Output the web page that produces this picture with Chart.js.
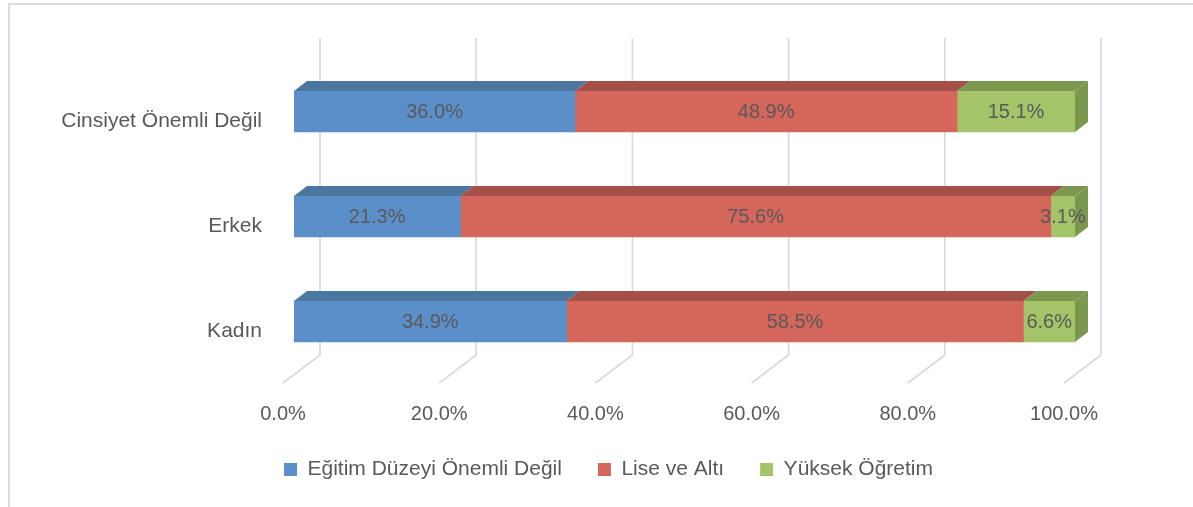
<!DOCTYPE html>
<html>
<head>
<meta charset="utf-8">
<script src="https://cdn.jsdelivr.net/npm/chart.js@4"></script>
<style>
html, body { margin: 0; padding: 0; background: #fff; }
#wrap { position: relative; width: 1193px; height: 507px; overflow: hidden; }
#frame { position: absolute; left: 8px; top: 3px; right: -4px; bottom: -4px; border-top: 2px solid #dcdcdc; border-left: 2px solid #dcdcdc; }
canvas { position: absolute; left: 0; top: 0; }
</style>
</head>
<body>
<div id="wrap">
  <div id="frame"></div>
  <canvas id="chart" width="1193" height="507"></canvas>
</div>
<script>
// --- Data ---
const categories = ['Cinsiyet Önemli Değil', 'Erkek', 'Kadın'];
const seriesNames = ['Eğitim Düzeyi Önemli Değil', 'Lise ve Altı', 'Yüksek Öğretim'];
const egitimOnemliDegil = [36.0, 21.3, 34.9];
const liseVeAlti = [48.9, 75.6, 58.5];
const yuksekOgretim = [15.1, 3.1, 6.6];
const xTicks = [0, 20, 40, 60, 80, 100];

// front, top and side face colours per series
const frontColors = ['#5b8fc9', '#d4665c', '#a5c46a'];
const topColors = ['#4a76a0', '#a54f49', '#7b984e'];

const TEXT = '#595959';
const FONT = 'Liberation Sans';
Chart.defaults.font.family = FONT;
Chart.defaults.font.size = 20;
Chart.defaults.color = TEXT;

// bar depth (3D offset)
const DX = 13, DY = 10;
// legend is centred a bit right of the plot's own centre
const LEGEND_SHIFT = 51;

// Back wall grid + floor lines, 3D tops/sides, value labels
const bar3d = {
    id: 'bar3d',
    afterLayout(chart) {
        chart.legend.left += LEGEND_SHIFT;
        chart.legend.right += LEGEND_SHIFT;
    },
    beforeDatasetsDraw(chart) {
        const ctx = chart.ctx, xs = chart.scales.x, a = chart.chartArea;
        ctx.save();
        ctx.strokeStyle = '#d9d9d9';
        ctx.lineWidth = 1.6;
        xTicks.forEach(v => {
            const x = xs.getPixelForValue(v);
            ctx.beginPath();
            ctx.moveTo(x + 26, a.top - 21);
            ctx.lineTo(x + 26, a.bottom - 19);
            ctx.lineTo(x - 11, a.bottom + 9);
            ctx.stroke();
        });
        ctx.restore();
    },
    afterDatasetsDraw(chart) {
        const ctx = chart.ctx;
        const n = chart.data.datasets.length;
        ctx.save();
        chart.data.datasets.forEach((ds, di) => {
            chart.getDatasetMeta(di).data.forEach(bar => {
                const p = bar.getProps(['x', 'y', 'base', 'height'], true);
                const top = p.y - p.height / 2, bottom = p.y + p.height / 2;
                // top face
                ctx.fillStyle = topColors[di];
                ctx.beginPath();
                ctx.moveTo(p.base, top);
                ctx.lineTo(p.base + DX, top - DY);
                ctx.lineTo(p.x + DX, top - DY);
                ctx.lineTo(p.x, top);
                ctx.closePath();
                ctx.fill();
                // side face on the last segment
                if (di === n - 1) {
                    ctx.beginPath();
                    ctx.moveTo(p.x, top);
                    ctx.lineTo(p.x + DX, top - DY);
                    ctx.lineTo(p.x + DX, bottom - DY);
                    ctx.lineTo(p.x, bottom);
                    ctx.closePath();
                    ctx.fill();
                }
            });
        });
        // value labels
        ctx.fillStyle = TEXT;
        ctx.font = '20px ' + FONT;
        ctx.textAlign = 'center';
        ctx.textBaseline = 'middle';
        chart.data.datasets.forEach((ds, di) => {
            chart.getDatasetMeta(di).data.forEach((bar, i) => {
                const p = bar.getProps(['x', 'y', 'base'], true);
                ctx.fillText(ds.data[i].toFixed(1) + '%', (p.x + p.base) / 2, p.y + 1);
            });
        });
        ctx.restore();
    }
};

const seriesData = [egitimOnemliDegil, liseVeAlti, yuksekOgretim];

new Chart(document.getElementById('chart'), {
    type: 'bar',
    data: {
        labels: categories,
        datasets: seriesNames.map((name, i) => ({
            label: name,
            data: seriesData[i],
            backgroundColor: frontColors[i],
            borderWidth: 0,
            barThickness: 41
        }))
    },
    options: {
        indexAxis: 'y',
        responsive: false,
        animation: false,
        layout: { padding: { left: 40, right: 118, top: 59, bottom: 17 } },
        scales: {
            x: {
                stacked: true,
                min: 0, max: 100,
                afterBuildTicks(scale) { scale.ticks = xTicks.map(v => ({ value: v })); },
                afterFit(scale) { scale.height = 49; },
                grid: { display: false, drawTicks: false },
                border: { display: false },
                ticks: {
                    padding: 28,
                    labelOffset: -11,
                    color: TEXT,
                    callback: v => Number(v).toFixed(1) + '%'
                }
            },
            y: {
                stacked: true,
                afterFit(scale) { scale.width = 254; },
                grid: { display: false, drawTicks: false },
                border: { display: false },
                ticks: { padding: 32, labelOffset: 10, color: TEXT, font: { size: 21 } }
            }
        },
        plugins: {
            legend: {
                position: 'bottom',
                labels: { boxWidth: 13, boxHeight: 13, padding: 36, color: TEXT, font: { size: 21 } }
            },
            tooltip: { enabled: false }
        }
    },
    plugins: [bar3d]
});
</script>
</body>
</html>
